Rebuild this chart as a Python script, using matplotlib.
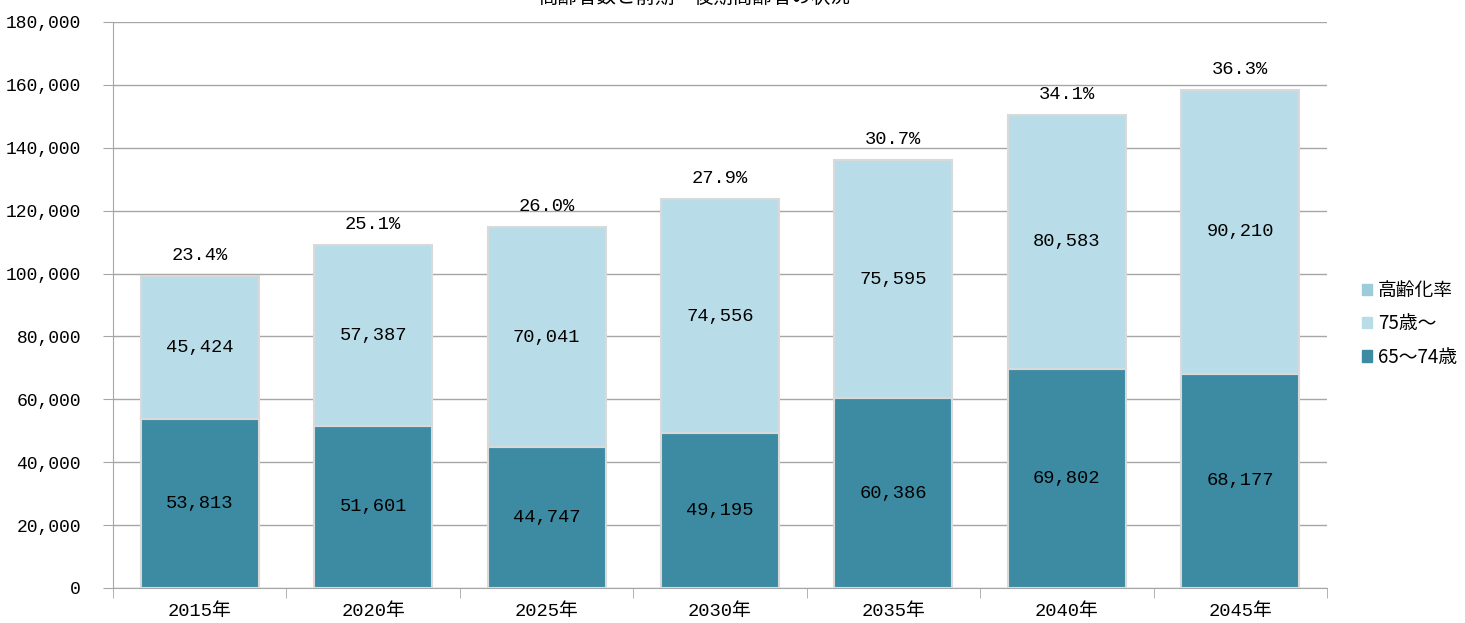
import numpy as np
import matplotlib.pyplot as plt
from matplotlib.patches import Patch

plt.rcParams['font.family'] = ['Liberation Mono', 'Noto Sans CJK JP']

years = ['2015年', '2020年', '2025年', '2030年', '2035年', '2040年', '2045年']
zenki = [53813, 51601, 44747, 49195, 60386, 69802, 68177]      # 65～74歳
kouki = [45424, 57387, 70041, 74556, 75595, 80583, 90210]      # 75歳～
rate = [23.4, 25.1, 26.0, 27.9, 30.7, 34.1, 36.3]              # 高齢化率 (%)

dark = '#3c8ba3'
light = '#b8dde8'
rate_col = '#9ccbdc'
edge = '#d9d9d9'

fig = plt.figure(figsize=(14.65, 6.23), dpi=100)
ax = fig.add_axes([0.0771, 0.0562, 0.8287, 0.9085])

x = np.arange(len(years))
w = 0.68
ax.bar(x, zenki, w, color=dark, edgecolor=edge, linewidth=1.5, zorder=3)
ax.bar(x, kouki, w, bottom=zenki, color=light, edgecolor=edge, linewidth=1.5, zorder=3)

fs = 13.5
for i in range(len(years)):
    ax.text(x[i], zenki[i] / 2, f'{zenki[i]:,}', ha='center', va='center', fontsize=fs, zorder=4)
    ax.text(x[i], zenki[i] + kouki[i] / 2, f'{kouki[i]:,}', ha='center', va='center', fontsize=fs, zorder=4)
    ax.annotate(f'{rate[i]:.1f}%', (x[i], zenki[i] + kouki[i]), xytext=(0, 15),
                textcoords='offset points', ha='center', va='center', fontsize=fs)

ax.set_xlim(-0.5, len(years) - 0.5)
ax.set_ylim(0, 180000)
ax.set_yticks(np.arange(0, 180001, 20000))
ax.set_yticklabels([f'{v:,}' for v in range(0, 180001, 20000)], fontsize=13)
ax.yaxis.grid(True, color='#a6a6a6', linewidth=1, zorder=0)
ax.set_axisbelow(True)

ax.set_xticks(x)
ax.set_xticklabels(years, fontsize=13.5)
ax.set_xticks(np.arange(-0.5, len(years), 1), minor=True)
ax.tick_params(axis='x', which='major', length=0, pad=11)
ax.tick_params(axis='x', which='minor', length=7, color='#a6a6a6')
ax.tick_params(axis='y', length=7, color='#a6a6a6', pad=16)

for s in ['top', 'right']:
    ax.spines[s].set_visible(False)
for s in ['left', 'bottom']:
    ax.spines[s].set_color('#a6a6a6')

handles = [Patch(color=rate_col), Patch(color=light), Patch(color=dark)]
fig.legend(handles, ['高齢化率', '75歳～', '65～74歳'], loc='center left',
           bbox_to_anchor=(0.918, 0.48), frameon=False, handlelength=0.55,
           handleheight=0.55, handletextpad=0.3, labelspacing=0.65,
           prop={'family': ['Noto Sans CJK JP'], 'size': 13.5})

# 上端で切れている見出し
fig.text(0.474, 1 - 8 / 623, '高齢者数と前期・後期高齢者の状況', ha='center', va='bottom',
         fontsize=14, family=['Noto Sans CJK JP'])

fig.savefig('out.png', dpi=100)
